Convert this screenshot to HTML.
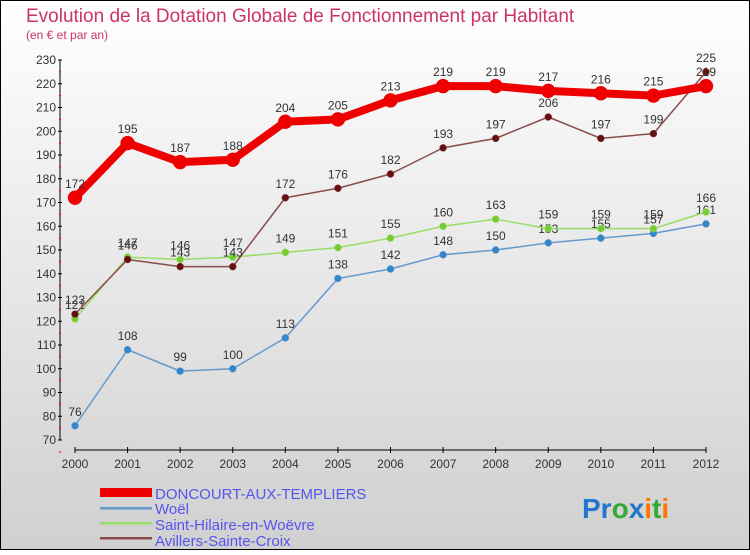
<!DOCTYPE html>
<html><head><meta charset="utf-8"><style>
body{margin:0}
#c{width:750px;height:550px;position:relative;font-family:"Liberation Sans",sans-serif}
</style></head><body>
<div id="c">
<svg id="s" width="750" height="550" xmlns="http://www.w3.org/2000/svg">
<defs><linearGradient id="bg" x1="0" y1="0" x2="0" y2="1"><stop offset="0" stop-color="#ffffff"/><stop offset="1" stop-color="#d0d0d0"/></linearGradient></defs>
<rect x="0.5" y="0.5" width="749" height="549" fill="url(#bg)" stroke="#000"/>
<text x="26" y="22" font-size="19" fill="#cc3366">Evolution de la Dotation Globale de Fonctionnement par Habitant</text>
<text x="26" y="39" font-size="12" fill="#cc3366">(en € et par an)</text>
<g id="axes"></g><g id="series"></g>
<g>
<rect x="100" y="488" width="52" height="9" fill="#ee0000"/>
<text x="155" y="499" font-size="15" fill="#5555ee">DONCOURT-AUX-TEMPLIERS</text>
<rect x="100" y="507" width="52" height="2.5" fill="#6699cc"/>
<text x="155" y="514" font-size="15" fill="#5555ee">Woël</text>
<rect x="100" y="522" width="52" height="2.5" fill="#99dd66"/>
<text x="155" y="530" font-size="15" fill="#5555ee">Saint-Hilaire-en-Woëvre</text>
<rect x="100" y="537" width="52" height="2.5" fill="#8b4b4b"/>
<text x="155" y="546" font-size="15" fill="#5555ee">Avillers-Sainte-Croix</text>
</g>
<g font-size="28" font-weight="bold">
<text x="582" y="518"><tspan fill="#2277cc">Pr</tspan><tspan fill="#33aa33">o</tspan><tspan fill="#2277cc">x</tspan><tspan fill="#ff7700">i</tspan><tspan fill="#33aa33">t</tspan><tspan fill="#ff7700">i</tspan></text>
</g>
</svg>
</div>
<script>
const years=[2000,2001,2002,2003,2004,2005,2006,2007,2008,2009,2010,2011,2012];
const yTicks=[70,80,90,100,110,120,130,140,150,160,170,180,190,200,210,220,230];
const doncourt=[172,195,187,188,204,205,213,219,219,217,216,215,219];
const woel=[76,108,99,100,113,138,142,148,150,153,155,157,161];
const hilaire=[121,147,146,147,149,151,155,160,163,159,159,159,166];
const avillers=[123,146,143,143,172,176,182,193,197,206,197,199,225];
const NS="http://www.w3.org/2000/svg";
function X(i){return 75+i*(706-75)/(years.length-1);}
function Y(v){return 440-(v-70)*(380/160);}
function mk(t,a,p){const e=document.createElementNS(NS,t);for(const k in a)e.setAttribute(k,a[k]);p.appendChild(e);return e;}
const ax=document.getElementById('axes');
let yl=mk('line',{x1:60,y1:Y(230),x2:60,y2:Y(70),stroke:'#000'},ax);


yTicks.forEach(v=>{
 mk('line',{x1:58,x2:62,y1:Y(v),y2:Y(v),stroke:'#000'},ax);
 mk('line',{x1:59,x2:61,y1:Y(v)+11.9,y2:Y(v)+11.9,stroke:'#e00'},ax);
 const t=mk('text',{x:56,y:Y(v)+4,'font-size':12,fill:'#333','text-anchor':'end'},ax);t.textContent=v;
 
 
});
let xl=mk('line',{x1:75,y1:450,x2:706,y2:450,stroke:'#000'},ax);


years.forEach((y,i)=>{
 mk('line',{x1:X(i),x2:X(i),y1:447,y2:453,stroke:'#000'},ax);
 const t=mk('text',{x:X(i),y:468,'font-size':12,fill:'#333','text-anchor':'middle'},ax);t.textContent=y;
 
 
});
const sg=document.getElementById('series');
function draw(data,color,w,r,dot,name){
 const g=mk('g',{},sg);
 
 
 mk('polyline',{points:data.map((v,i)=>X(i)+','+Y(v)).join(' '),fill:'none',stroke:color,'stroke-width':w,'stroke-linejoin':'round'},g);
 data.forEach((v,i)=>{
  const c=mk('circle',{cx:X(i),cy:Y(v),r:r,fill:dot,stroke:color,'stroke-width':0.5},g);
  
  
  const t=mk('text',{x:X(i),y:Y(v)-10,'font-size':12,fill:'#333','text-anchor':'middle'},g);t.textContent=v;
  
  
 });
}
draw(woel,'#6699cc',1.5,3.5,'#3388cc','woel');
draw(hilaire,'#99dd66',1.5,3.5,'#77cc33','saint-hilaire');
draw(avillers,'#8b4b4b',1.5,3.5,'#661111','avillers');
draw(doncourt,'#ee0000',8,7,'#ee0000','doncourt');
</script>
</body></html>
